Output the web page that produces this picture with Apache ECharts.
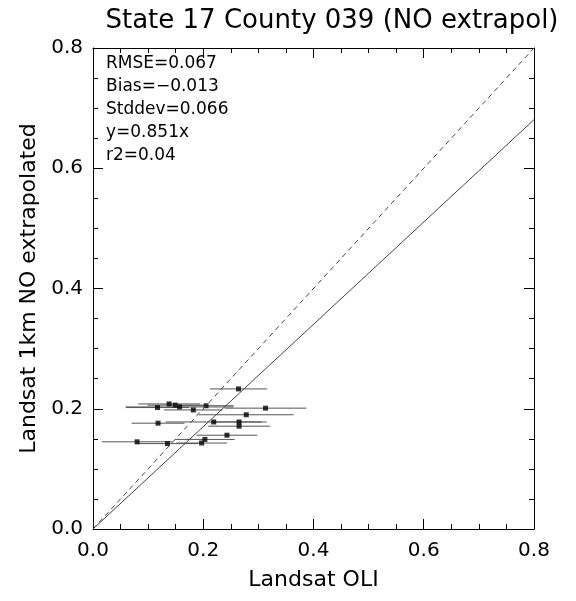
<!DOCTYPE html>
<html>
<head>
<meta charset="utf-8">
<script src="https://cdn.jsdelivr.net/npm/echarts@6/dist/echarts.min.js"></script>
<style>
  html, body { margin: 0; padding: 0; background: #fff; }
  #chart { width: 576px; height: 601px; }
</style>
</head>
<body>
<div id="chart"></div>
<script>
// Landsat OLI (x) vs Landsat 1km NO extrapolated (y), with x error half-widths
const oli = [0.264, 0.138, 0.149, 0.157, 0.117, 0.205, 0.313, 0.182, 0.278, 0.118, 0.219, 0.265, 0.265, 0.243, 0.203, 0.080, 0.135, 0.197];
const km1 = [0.233, 0.208, 0.206, 0.203, 0.202, 0.205, 0.201, 0.198, 0.190, 0.176, 0.178, 0.178, 0.171, 0.156, 0.149, 0.145, 0.142, 0.143];
const xErr = [0.052, 0.056, 0.050, 0.098, 0.057, 0.050, 0.074, 0.053, 0.086, 0.048, 0.087, 0.050, 0.056, 0.055, 0.054, 0.064, 0.056, 0.046];

const slope = 0.851;
const statLines = ['RMSE=0.067', 'Bias=\u22120.013', 'Stddev=0.066', 'y=0.851x', 'r2=0.04'];
const ticks = [0.0, 0.2, 0.4, 0.6, 0.8];

const points = oli.map((x, i) => [x, km1[i], xErr[i]]);
const font = '"DejaVu Sans", sans-serif';

const axisBase = (extra) => Object.assign({
  type: 'value', min: 0, max: 0.8, interval: 0.2,
  axisLine: { show: true, onZero: false, lineStyle: { color: '#000', width: 1 } },
  axisTick: { show: true, inside: true, length: 10, lineStyle: { color: '#000' } },
  minorTick: { show: true, splitNumber: 4, length: 5, lineStyle: { color: '#000' } },
  splitLine: { show: false },
  axisLabel: { color: '#000', fontSize: 20, fontFamily: font, formatter: v => v.toFixed(1) }
}, extra);

const chart = echarts.init(document.getElementById('chart'));
chart.setOption({
  animation: false,
  backgroundColor: '#fff',
  title: {
    text: 'State 17 County 039 (NO extrapol)',
    left: 327, top: 3, textAlign: 'center',
    textStyle: { color: '#000', fontSize: 26, fontWeight: 'normal', fontFamily: font }
  },
  grid: { left: 93, right: 42, top: 48, bottom: 72 },
  xAxis: [
    axisBase({ position: 'bottom', name: 'Landsat OLI', nameLocation: 'middle', nameGap: 40,
      nameTextStyle: { color: '#000', fontSize: 22, fontFamily: font },
      axisLabel: { color: '#000', fontSize: 20, fontFamily: font, margin: 12, formatter: v => v.toFixed(1) } }),
    axisBase({ position: 'top', axisLabel: { show: false } })
  ],
  yAxis: [
    axisBase({ position: 'left', name: 'Landsat 1km NO extrapolated', nameLocation: 'middle', nameGap: 50,
      nameTextStyle: { color: '#000', fontSize: 22, fontFamily: font },
      axisLabel: { color: '#000', fontSize: 20, fontFamily: font, margin: 10, formatter: v => v.toFixed(1) } }),
    axisBase({ position: 'right', axisLabel: { show: false } })
  ],
  graphic: statLines.map((t, i) => ({
    type: 'text', left: 106, top: 55 + i * 23,
    style: { text: t, fill: '#000', fontSize: 17, fontFamily: font }
  })),
  series: [
    {
      type: 'line', name: '1:1', data: [[ticks[0], ticks[0]], [ticks[4], ticks[4]]],
      symbol: 'none', silent: true,
      lineStyle: { color: '#444', width: 1, type: [5, 4] }
    },
    {
      type: 'line', name: 'fit', data: [[ticks[0], slope * ticks[0]], [ticks[4], slope * ticks[4]]],
      symbol: 'none', silent: true,
      lineStyle: { color: '#444', width: 1 }
    },
    {
      type: 'custom', name: 'err',
      data: points,
      renderItem: (params, api) => {
        const x = api.value(0), y = api.value(1), e = api.value(2);
        const a = api.coord([x - e, y]);
        const b = api.coord([x + e, y]);
        return {
          type: 'line',
          shape: { x1: a[0], y1: a[1], x2: b[0], y2: b[1] },
          style: { stroke: '#555', lineWidth: 1 }
        };
      }
    },
    {
      type: 'scatter', name: 'pts', data: points,
      symbol: 'rect', symbolSize: 5,
      itemStyle: { color: '#000' }
    }
  ]
});
</script>
</body>
</html>
